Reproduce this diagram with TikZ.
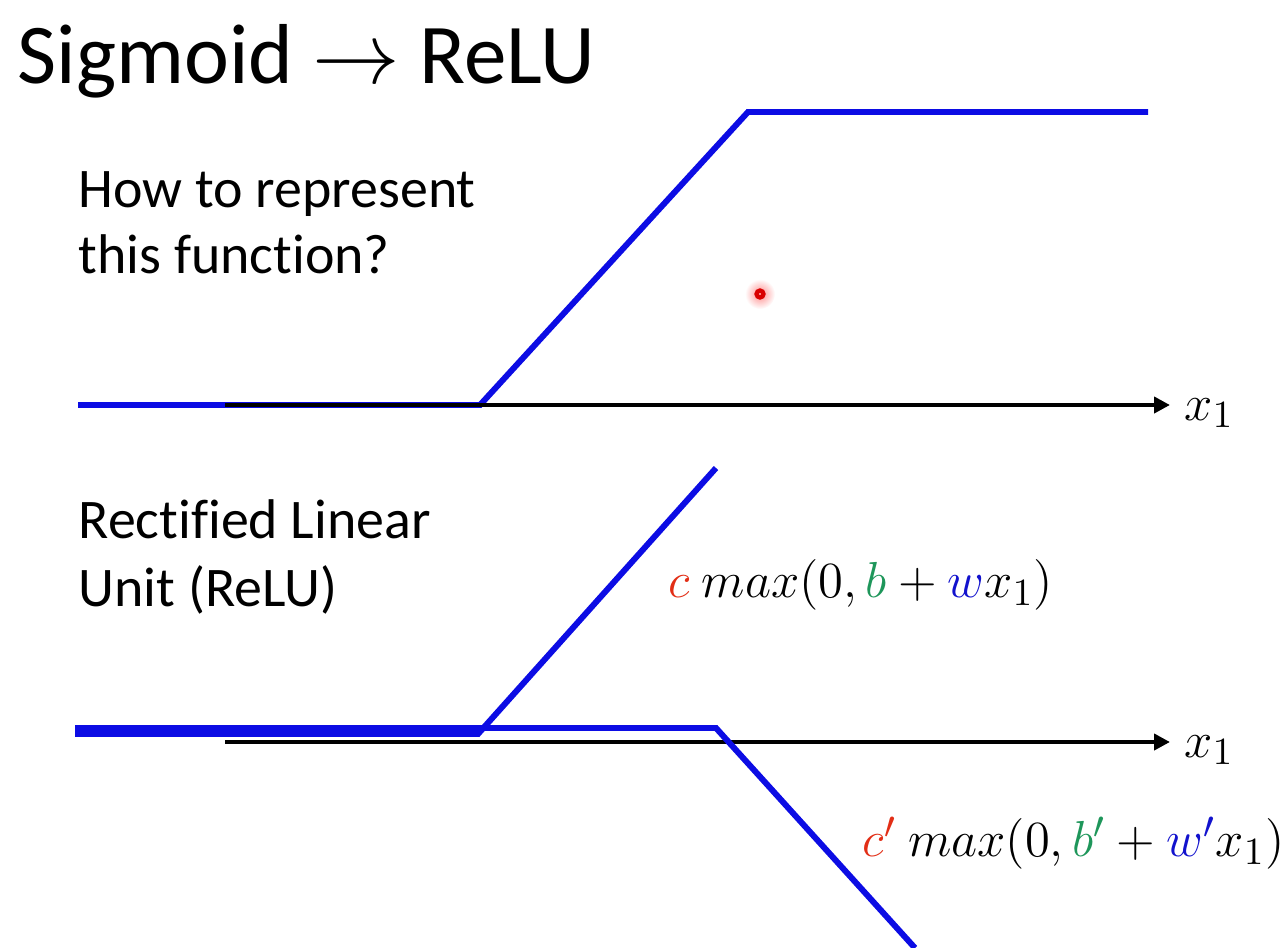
\documentclass[tikz,border=0pt]{standalone}
\usepackage{fontspec}
\setmainfont{Carlito}[Ligatures=CommonOff]
\usetikzlibrary{positioning,arrows.meta}
\definecolor{relublue}{RGB}{12,12,228}
\definecolor{coefred}{RGB}{226,46,22}
\definecolor{biasgreen}{RGB}{30,150,90}
\definecolor{weightblue}{RGB}{18,18,205}

\begin{document}
\begin{tikzpicture}[x=0.01cm, y=-0.01cm,
  curve/.style={draw=relublue, line width=1.7pt, line join=miter},
  axis/.style={-{Triangle[length=4.5pt,width=4.5pt]}, line width=1.4pt, black},
  words/.style={font=\fontsize{15.9}{19}\selectfont, anchor=base west, inner sep=0pt},
  formula/.style={font=\fontsize{15}{18}\selectfont, anchor=west, inner sep=0pt},
]
  \useasboundingbox (0,0) rectangle (1284,948);

  \node[font=\fontsize{24.2}{30}\selectfont, anchor=base west, inner sep=0pt] (title)
    at (17,83) {Sigmoid $\rightarrow$ ReLU};

  % hard sigmoid
  \node[words] (ask1) at (78,207) {How to represent};
  \node[words] (ask2) at (78,273) {this function?};
  \coordinate (s0) at (78,405);
  \coordinate (s1) at (480,405);
  \coordinate (s2) at (748,112);
  \coordinate (s3) at (1148,112);
  \draw[curve] (s0) -- (s1) -- (s2) -- (s3);
  \coordinate (ta) at (225,405);
  \coordinate (tb) at (1170,405);
  \draw[axis] (ta) -- (tb);
  \node[formula] (tx) at (1184,413) {$x_1$};

  % pointer dot
  \shade[inner color=red!45, outer color=white] (760,294) circle (15);
  \draw[red!85!black, line width=1.2pt] (760,294) circle (3.5);

  % two ReLUs
  \node[words] (unit1) at (78,538) {Rectified Linear};
  \node[words] (unit2) at (78,606) {Unit (ReLU)};
  \coordinate (ba) at (225,742);
  \coordinate (bb) at (1170,742);
  \draw[axis] (ba) -- (bb);
  \node[formula] (bx) at (1184,750) {$x_1$};

  \coordinate (r0) at (75,734);
  \coordinate (r1) at (478,734);
  \coordinate (r2) at (716,468);
  \draw[curve] (r0) -- (r1) -- (r2);
  \coordinate (q0) at (75,728);
  \coordinate (q1) at (716,728);
  \coordinate (q2) at (915,948);
  \draw[curve] (q0) -- (q1) -- (q2);

  \node[formula] (up) at (668,585)
    {$\textcolor{coefred}{c}\ max(0, \textcolor{biasgreen}{b} + \textcolor{weightblue}{w}x_1)$};
  \node[formula] (down) at (862,843)
    {$\textcolor{coefred}{c'}\ max(0, \textcolor{biasgreen}{b'} + \textcolor{weightblue}{w'}x_1)$};
\end{tikzpicture}
\end{document}
